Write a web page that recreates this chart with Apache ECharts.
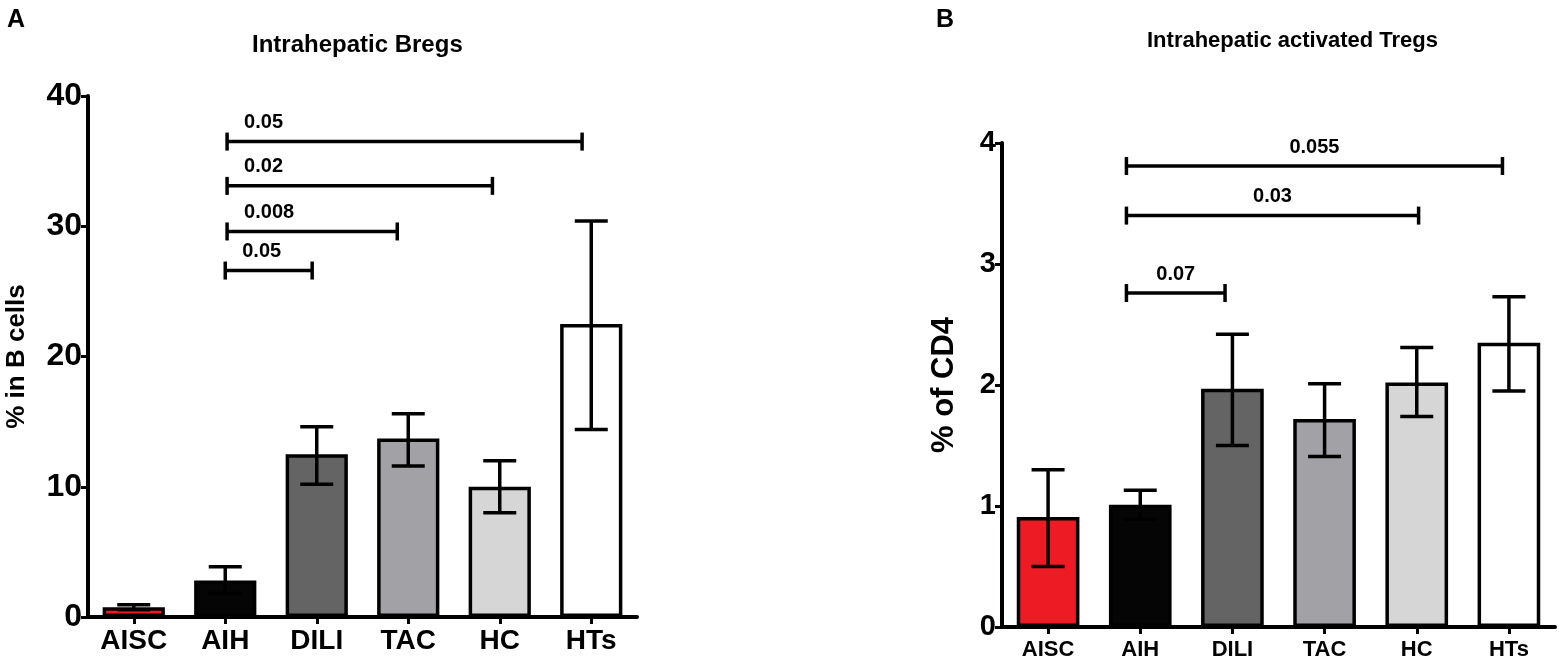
<!DOCTYPE html>
<html>
<head>
<meta charset="utf-8">
<script src="https://cdn.jsdelivr.net/npm/echarts@6/dist/echarts.min.js"></script>
<style>html,body{margin:0;padding:0;background:#fff;}#c{width:1562px;height:662px;}</style>
</head>
<body>
<div id="c"></div>
<script>
// ---- data ----
const categories = ['AISC', 'AIH', 'DILI', 'TAC', 'HC', 'HTs'];
const barColors = ['#ED1C24', '#050505', '#636463', '#A2A2A6', '#D5D6D5', '#FFFFFF'];

// Panel A: Intrahepatic Bregs (% in B cells)
const bregMean = [0.75, 2.8, 12.5, 13.7, 10.0, 22.5];
const bregLow  = [0.55, 1.8, 10.2, 11.6, 8.0, 14.4];
const bregHigh = [0.95, 3.85, 14.6, 15.6, 12.0, 30.4];
const bregTicks = [0, 10, 20, 30, 40];
const bregPFrom   = [1.02, 1.02, 1.02, 1.0];
const bregPTo     = [4.90, 3.92, 2.88, 1.95];
const bregPHeight = [36.5, 33.1, 29.6, 26.6];
const bregPLabel  = ['0.05', '0.02', '0.008', '0.05'];

// Panel B: Intrahepatic activated Tregs (% of CD4)
const tregMean = [0.91, 1.01, 1.97, 1.72, 2.02, 2.35];
const tregLow  = [0.50, 0.89, 1.50, 1.41, 1.74, 1.95];
const tregHigh = [1.30, 1.13, 2.42, 2.01, 2.31, 2.73];
const tregTicks = [0, 1, 2, 3, 4];
const tregPFrom   = [0.85, 0.85, 0.85];
const tregPTo     = [4.93, 4.02, 1.92];
const tregPHeight = [3.81, 3.40, 2.76];
const tregPLabel  = ['0.055', '0.03', '0.07'];

// ---- rendering ----
const FONT = '"Liberation Sans", Arial, sans-serif';
const chart = echarts.init(document.getElementById('c'), null, {renderer: 'canvas'});

function errorRender(params, api) {
  const x = api.value(0);
  const lo = api.coord([x, api.value(1)]);
  const hi = api.coord([x, api.value(2)]);
  const half = 16.5;
  const st = {stroke: '#000', lineWidth: 3.5};
  return {
    type: 'group',
    children: [
      {type: 'line', shape: {x1: lo[0], y1: lo[1], x2: hi[0], y2: hi[1]}, style: st},
      {type: 'line', shape: {x1: hi[0] - half, y1: hi[1], x2: hi[0] + half, y2: hi[1]}, style: st},
      {type: 'line', shape: {x1: lo[0] - half, y1: lo[1], x2: lo[0] + half, y2: lo[1]}, style: st}
    ]
  };
}

function bracketRender(labels, mode) {
  return function (params, api) {
    const a = api.coord([api.value(0), api.value(2)]);
    const b = api.coord([api.value(1), api.value(2)]);
    const st = {stroke: '#000', lineWidth: 3.5};
    const cap = 9;
    let tx, align;
    if (mode === 'left') { tx = a[0] + 17; align = 'left'; }
    else { tx = (a[0] + b[0]) / 2; align = 'center'; }
    return {
      type: 'group',
      children: [
        {type: 'line', shape: {x1: a[0], y1: a[1], x2: b[0], y2: b[1]}, style: st},
        {type: 'line', shape: {x1: a[0], y1: a[1] - cap, x2: a[0], y2: a[1] + cap}, style: st},
        {type: 'line', shape: {x1: b[0], y1: b[1] - cap, x2: b[0], y2: b[1] + cap}, style: st},
        {type: 'text', style: {text: labels[params.dataIndex], x: tx, y: a[1] - 9,
          align: align, verticalAlign: 'bottom', font: 'bold 20px ' + FONT, fill: '#000'}}
      ]
    };
  };
}

function catAxis(grid, fontSize, margin) {
  return {
    type: 'category', gridIndex: grid, data: categories,
    axisLine: {show: true, onZero: false, lineStyle: {color: '#000', width: 4}},
    axisTick: {show: true, alignWithLabel: true, length: 7, lineStyle: {color: '#000', width: 3}},
    axisLabel: {show: true, color: '#000', fontFamily: FONT, fontWeight: 'bold', fontSize: fontSize, margin: margin, interval: 0},
    splitLine: {show: false}
  };
}
function hiddenX(grid) {
  return {type: 'value', gridIndex: grid, min: -0.5, max: 5.5, show: false,
    axisLine: {show: false, onZero: false}};
}
function valAxis(grid, ticks, fontSize, name, nameSize, nameGap) {
  return {
    type: 'value', gridIndex: grid, min: ticks[0], max: ticks[ticks.length - 1],
    interval: ticks[1] - ticks[0],
    axisLine: {show: true, onZero: false, lineStyle: {color: '#000', width: 4}},
    axisTick: {show: true, length: 7, lineStyle: {color: '#000', width: 3}},
    axisLabel: {show: true, color: '#000', fontFamily: FONT, fontWeight: 'bold', fontSize: fontSize, margin: 6},
    splitLine: {show: false},
    name: name, nameLocation: 'middle', nameRotate: 90, nameGap: nameGap,
    nameTextStyle: {color: '#000', fontFamily: FONT, fontWeight: 'bold', fontSize: nameSize}
  };
}
function barData(means) {
  return means.map((v, i) => ({value: v, itemStyle: {color: barColors[i]}}));
}
function errData(lo, hi) {
  return categories.map((c, i) => [i, lo[i], hi[i]]);
}
function brData(f, t, h) {
  return f.map((v, i) => [v, t[i], h[i]]);
}

const option = {
  animation: false,
  backgroundColor: '#fff',
  title: [
    {text: 'A', left: 2, top: 3, textStyle: {fontFamily: FONT, fontWeight: 'bold', fontSize: 25, color: '#000'}},
    {text: 'Intrahepatic Bregs', left: 247, top: 28, textStyle: {fontFamily: FONT, fontWeight: 'bold', fontSize: 24, color: '#000'}},
    {text: 'B', left: 931, top: 3, textStyle: {fontFamily: FONT, fontWeight: 'bold', fontSize: 25, color: '#000'}},
    {text: 'Intrahepatic activated Tregs', left: 1142, top: 25, textStyle: {fontFamily: FONT, fontWeight: 'bold', fontSize: 22, color: '#000'}}
  ],
  grid: [
    {left: 88, right: 925, top: 96, bottom: 45},
    {left: 1002, right: 7, top: 143, bottom: 35}
  ],
  xAxis: [catAxis(0, 28, 10), hiddenX(0), catAxis(1, 22, 12), hiddenX(1)],
  yAxis: [
    valAxis(0, bregTicks, 32, '% in B cells', 26, 58),
    valAxis(1, tregTicks, 29, '% of CD4', 31, 42)
  ],
  series: [
    {type: 'bar', xAxisIndex: 0, yAxisIndex: 0, data: barData(bregMean), barWidth: '68%',
      itemStyle: {borderColor: '#000', borderWidth: 3.5}, z: 2},
    {type: 'custom', xAxisIndex: 0, yAxisIndex: 0, data: errData(bregLow, bregHigh), renderItem: errorRender, z: 5},
    {type: 'custom', xAxisIndex: 1, yAxisIndex: 0, data: brData(bregPFrom, bregPTo, bregPHeight),
      renderItem: bracketRender(bregPLabel, 'left'), z: 5},
    {type: 'bar', xAxisIndex: 2, yAxisIndex: 1, data: barData(tregMean), barWidth: '68%',
      itemStyle: {borderColor: '#000', borderWidth: 3.5}, z: 2},
    {type: 'custom', xAxisIndex: 2, yAxisIndex: 1, data: errData(tregLow, tregHigh), renderItem: errorRender, z: 5},
    {type: 'custom', xAxisIndex: 3, yAxisIndex: 1, data: brData(tregPFrom, tregPTo, tregPHeight),
      renderItem: bracketRender(tregPLabel, 'center'), z: 5}
  ]
};
chart.setOption(option);
</script>
</body>
</html>
